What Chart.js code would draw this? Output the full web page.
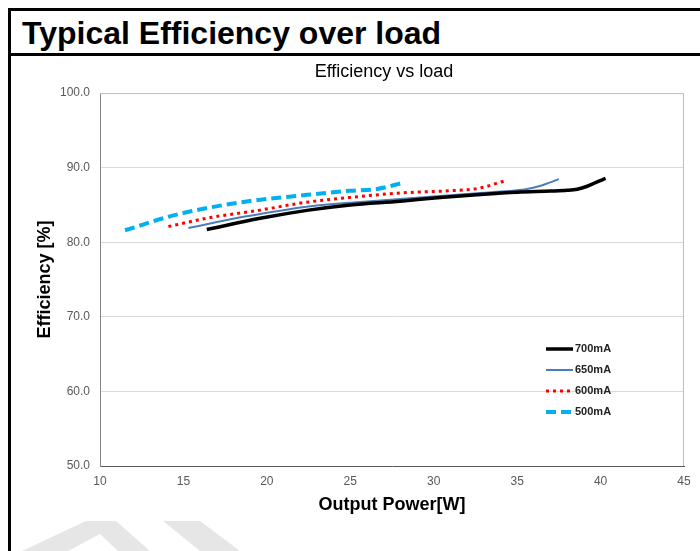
<!DOCTYPE html>
<html>
<head>
<meta charset="utf-8">
<script src="https://cdn.jsdelivr.net/npm/chart.js@4.4.1/dist/chart.umd.min.js"></script>
<style>
  body { margin: 0; background: #fff; width: 700px; height: 551px; overflow: hidden; position: relative; font-family: Arial, "Liberation Sans", sans-serif; }
  .box { position: absolute; left: 8px; top: 8px; width: 760px; height: 600px; border-left: 3px solid #000; border-top: 3px solid #000; }
  .headline { position: absolute; left: 8px; top: 53px; width: 700px; height: 3px; background: #000; }
  .head { position: absolute; left: 22px; top: 17px; font: bold 32px Arial, "Liberation Sans", sans-serif; line-height: 32px; color: #000; white-space: nowrap; }
  .mark { position: absolute; left: 0; top: 0; }
  #effChart { position: absolute; left: 0; top: 0; }
</style>
</head>
<body>
<div class="box"></div>
<div class="headline"></div>
<div class="head">Typical Efficiency over load</div>
<svg class="mark" width="700" height="551">
  <polygon points="22,551 86,521 116,521 150,551 118,551 100,534 68,551" fill="#e6e6e6"/>
  <polygon points="163,521 200,521 240,551 200,551" fill="#e6e6e6"/>
</svg>
<canvas id="effChart" width="700" height="551"></canvas>
<script>
// curves (output power W / efficiency %)
const power700 = [16.4, 19.6, 22.5, 25.0, 28.0, 30.4, 32.8, 35.0, 37.0, 38.0, 38.6, 39.2, 39.7, 40.3];
const eff700   = [81.7, 83.2, 84.3, 85.0, 85.5, 86.0, 86.4, 86.7, 86.85, 86.95, 87.1, 87.5, 88.0, 88.55];
const power650 = [15.3, 18.6, 22.5, 25.0, 28.0, 32.8, 34.5, 35.5, 36.3, 36.9, 37.5];
const eff650   = [81.9, 83.4, 84.8, 85.3, 85.8, 86.6, 86.85, 87.1, 87.5, 87.95, 88.45];
const power600 = [14.1, 16.6, 19.6, 22.2, 25.0, 28.0, 31.0, 32.5, 33.3, 33.9, 34.4];
const eff600   = [82.1, 83.3, 84.3, 85.3, 86.0, 86.6, 86.9, 87.15, 87.55, 88.0, 88.3];
const power500 = [11.5, 14.6, 18.6, 22.2, 25.0, 26.5, 27.2, 27.7, 28.2];
const eff500   = [81.6, 83.7, 85.4, 86.3, 86.9, 87.1, 87.4, 87.7, 88.0];

const seriesNames = ['700mA', '650mA', '600mA', '500mA'];
const xTicks = [10, 15, 20, 25, 30, 35, 40, 45];
const yTicks = [50, 60, 70, 80, 90, 100];

function pts(xs, ys) {
  return xs.map((x, i) => ({ x: x, y: ys[i] }));
}

const FONT = 'Arial, "Liberation Sans", sans-serif';

// plot frame (top/right in light gray like the original)
const framePlugin = {
  id: 'frame',
  beforeDatasetsDraw(chart) {
    const a = chart.chartArea, c = chart.ctx;
    c.save();
    c.strokeStyle = '#bfbfbf';
    c.lineWidth = 1;
    c.beginPath();
    c.moveTo(a.left, a.top + 0.5);
    c.lineTo(a.right - 0.5, a.top + 0.5);
    c.lineTo(a.right - 0.5, a.bottom);
    c.stroke();
    c.restore();
  }
};

// chart title, centred a bit left of the plot like the reference
const titlePlugin = {
  id: 'topTitle',
  afterDraw(chart) {
    const c = chart.ctx;
    c.save();
    c.font = '18px ' + FONT;
    c.fillStyle = '#000';
    c.textAlign = 'center';
    c.textBaseline = 'middle';
    c.fillText('Efficiency vs load', 384, 72);
    c.restore();
  }
};

// legend inside the plot, lower right
const legendPlugin = {
  id: 'innerLegend',
  afterDraw(chart) {
    const c = chart.ctx;
    c.save();
    c.font = 'bold 11px ' + FONT;
    c.textBaseline = 'middle';
    chart.data.datasets.forEach((ds, i) => {
      const y = 349 + i * 21;
      c.strokeStyle = ds.borderColor;
      c.lineWidth = ds.borderWidth;
      c.setLineDash(ds.borderDash || []);
      c.beginPath();
      c.moveTo(546, y);
      c.lineTo(573, y);
      c.stroke();
      c.setLineDash([]);
      c.fillStyle = '#222';
      c.fillText(ds.label, 575, y);
    });
    c.restore();
  }
};

new Chart(document.getElementById('effChart'), {
  type: 'line',
  data: {
    datasets: [
      { label: seriesNames[0], data: pts(power700, eff700), borderColor: '#000000', borderWidth: 3.5 },
      { label: seriesNames[1], data: pts(power650, eff650), borderColor: '#4a7ebb', borderWidth: 2 },
      { label: seriesNames[2], data: pts(power600, eff600), borderColor: '#ff0000', borderWidth: 3, borderDash: [3, 4] },
      { label: seriesNames[3], data: pts(power500, eff500), borderColor: '#00b0f0', borderWidth: 4, borderDash: [10, 5] }
    ]
  },
  options: {
    responsive: false,
    animation: false,
    layout: { padding: { top: 93, right: 16, left: 0, bottom: 0 } },
    elements: {
      point: { radius: 0 },
      line: { cubicInterpolationMode: 'monotone', fill: false }
    },
    scales: {
      x: {
        type: 'linear',
        min: 10,
        max: 45,
        afterBuildTicks: s => { s.ticks = xTicks.map(v => ({ value: v })); },
        afterFit: s => { s.height = 85; },
        ticks: { color: '#595959', font: { family: FONT, size: 12 }, padding: 8 },
        grid: { display: false, drawTicks: false },
        border: { color: '#595959' },
        title: { display: true, text: 'Output Power[W]', color: '#000', font: { family: FONT, size: 18, weight: 'bold' }, padding: { top: 0, bottom: 35 } }
      },
      y: {
        min: 50,
        max: 100,
        afterBuildTicks: s => { s.ticks = yTicks.map(v => ({ value: v })); },
        afterFit: s => { s.width = 100; },
        ticks: { color: '#595959', font: { family: FONT, size: 12 }, padding: 10, callback: v => v.toFixed(1) },
        grid: { color: '#d9d9d9', drawTicks: false },
        border: { color: '#868686' },
        title: { display: true, text: 'Efficiency [%]', color: '#000', font: { family: FONT, size: 18, weight: 'bold' }, padding: { top: 34, bottom: 0 } }
      }
    },
    plugins: {
      legend: { display: false },
      tooltip: { enabled: false }
    }
  },
  plugins: [framePlugin, titlePlugin, legendPlugin]
});
</script>
</body>
</html>
